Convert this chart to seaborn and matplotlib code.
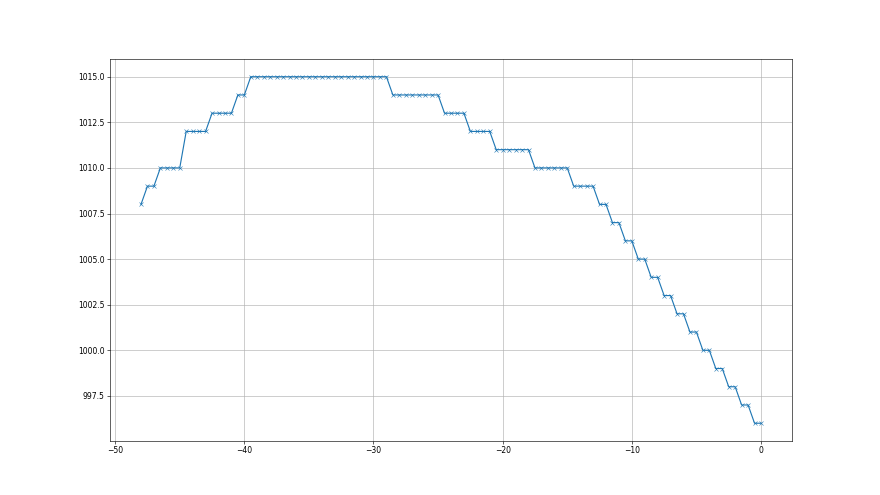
import matplotlib
matplotlib.use("Agg")
import matplotlib.pyplot as plt
import numpy as np
import pandas as pd
import seaborn as sns

# pressure levels and how many half-step samples sit on each
levels = [1008, 1009, 1010, 1012, 1013, 1014, 1015, 1014, 1013, 1012, 1011, 1010, 1009,
          1008, 1007, 1006, 1005, 1004, 1003, 1002, 1001, 1000, 999, 998, 997, 996]
counts = [1, 2, 4, 4, 4, 2, 22, 8, 4, 4, 6, 6, 4,
          2, 2, 2, 2, 2, 2, 2, 2, 2, 2, 2, 2, 2]

pressure = np.repeat(levels, counts)
hours = np.arange(-48, 0.5, 0.5)

df = pd.DataFrame({"hours": hours, "pressure": pressure})

fig, ax = plt.subplots(figsize=(16, 9), dpi=55)
sns.lineplot(data=df, x="hours", y="pressure", marker="x", color="C0",
             markeredgecolor="C0", ax=ax)
ax.grid(True)
ax.set_xlabel("")
ax.set_ylabel("")
fig.savefig("out.png", dpi=55)
